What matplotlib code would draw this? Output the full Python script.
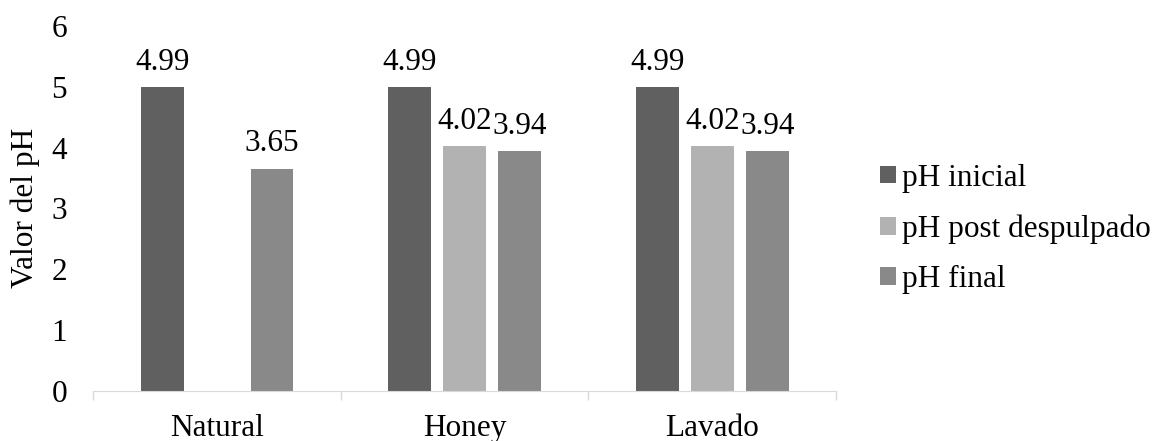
import numpy as np
import matplotlib.pyplot as plt

categorias = ['Natural', 'Honey', 'Lavado']
series = ['pH inicial', 'pH post despulpado', 'pH final']
ph_inicial = [4.99, 4.99, 4.99]
ph_post = [np.nan, 4.02, 4.02]
ph_final = [3.65, 3.94, 3.94]
colores = ['#606060', '#b2b2b2', '#898989']

plt.rcParams['font.family'] = ['Liberation Serif', 'DejaVu Serif']
fs = 22.5

fig = plt.figure(figsize=(11.61, 4.41), dpi=100)
ax = fig.add_axes([0.0804, 0.114, 0.6397, 0.8272])

x = np.arange(len(categorias))
ancho = 0.1725
paso = 0.222
valores = [ph_inicial, ph_post, ph_final]
for i, (nombre, vals, c) in enumerate(zip(series, valores, colores)):
    pos = x + (i - 1) * paso
    ax.bar(pos, vals, width=ancho, color=c, label=nombre)
    for p, v in zip(pos, vals):
        if not np.isnan(v):
            ax.annotate(f'{v:.2f}', (p, v), xytext=(0, 12.5), textcoords='offset points',
                        ha='center', va='baseline', fontsize=fs)

ax.set_xlim(-0.5, 2.5)
ax.set_ylim(0, 6)
ax.set_yticks(range(0, 7))
ax.tick_params(axis='y', length=0, labelsize=fs, pad=19)
ax.set_xticks(x)
ax.set_xticklabels(categorias)
ax.tick_params(axis='x', which='major', length=0, labelsize=fs, pad=17)
ax.set_xticks([-0.5, 0.5, 1.5, 2.5], minor=True)
ax.tick_params(axis='x', which='minor', length=6.5, color='#d9d9d9', width=1)
for s in ['top', 'right', 'left']:
    ax.spines[s].set_visible(False)
ax.spines['bottom'].set_color('#d9d9d9')

fig.text(25 / 1161, 1 - 208 / 441, 'Valor del pH', rotation=90, ha='center', va='center',
         fontsize=fs)

fig.legend(loc='center left', bbox_to_anchor=(880 / 1161, 1 - 229 / 441), frameon=False,
           fontsize=fs, borderpad=0, borderaxespad=0, handlelength=0.5, handleheight=0.5,
           handletextpad=0.2, labelspacing=0.69)

fig.savefig('out.png', dpi=100)
